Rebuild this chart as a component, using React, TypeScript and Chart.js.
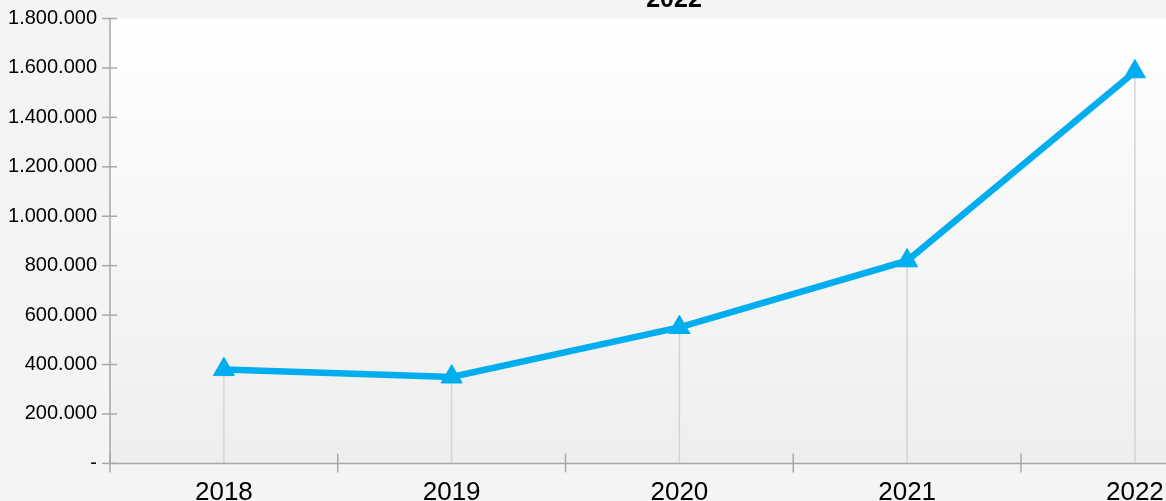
import React, { useEffect, useRef } from "react";
import { Chart, registerables } from "chart.js";

Chart.register(...registerables);

const categories: string[] = ["2018", "2019", "2020", "2021", "2022"];
const seriesValues: number[] = [380000, 350000, 550000, 820000, 1585000];
const yTickValues: number[] = [0, 200000, 400000, 600000, 800000, 1000000, 1200000, 1400000, 1600000, 1800000];
const chartTitle = "2022";

const CANVAS_W = 1348;
const CANVAS_H = 600;
const CANVAS_TOP = -40;
const FONT = "'Liberation Sans', Arial, sans-serif";
const LINE_COLOR = "#00AEEF";
const AXIS_COLOR = "#a8a8a8";

function formatThousands(v: number): string {
  if (v === 0) return "-";
  return String(Math.round(v)).replace(/\B(?=(\d{3})+(?!\d))/g, ".");
}

const decorPlugin = {
  id: "decor",
  beforeDraw(chart: any) {
    const { ctx, chartArea: ca, width, height } = chart;
    ctx.save();
    ctx.fillStyle = "#f4f4f4";
    ctx.fillRect(0, 0, width, height);
    const g = ctx.createLinearGradient(0, ca.top, 0, ca.bottom);
    g.addColorStop(0, "#ffffff");
    g.addColorStop(1, "#eeeeee");
    ctx.fillStyle = g;
    ctx.fillRect(ca.left, ca.top, ca.right - ca.left, ca.bottom - ca.top);
    // title, centred on the whole canvas
    ctx.fillStyle = "#000";
    ctx.font = "bold 25px " + FONT;
    ctx.textAlign = "center";
    ctx.textBaseline = "alphabetic";
    ctx.fillText(chartTitle, width / 2, ca.top - 11.2);
    ctx.restore();
  },
  beforeDatasetsDraw(chart: any) {
    const { ctx, chartArea: ca } = chart;
    const xs = chart.scales.x;
    const ys = chart.scales.y;
    ctx.save();
    // drop lines
    ctx.strokeStyle = "#d4d4d4";
    ctx.lineWidth = 1.5;
    const meta = chart.getDatasetMeta(0);
    meta.data.forEach((pt: any) => {
      ctx.beginPath();
      ctx.moveTo(pt.x, pt.y);
      ctx.lineTo(pt.x, ca.bottom);
      ctx.stroke();
    });
    // axis lines
    ctx.strokeStyle = AXIS_COLOR;
    ctx.lineWidth = 1.5;
    ctx.beginPath();
    ctx.moveTo(ca.left, ys.getPixelForValue(yTickValues[yTickValues.length - 1]));
    ctx.lineTo(ca.left, ca.bottom);
    ctx.lineTo(ca.right, ca.bottom);
    ctx.stroke();
    // y ticks crossing axis
    yTickValues.forEach((v) => {
      const py = ys.getPixelForValue(v);
      ctx.beginPath();
      ctx.moveTo(ca.left - 8, py);
      ctx.lineTo(ca.left + 7, py);
      ctx.stroke();
    });
    // x ticks at category boundaries
    for (let i = 0; i <= categories.length; i++) {
      const px = xs.getPixelForValue(i - 0.5);
      ctx.beginPath();
      ctx.moveTo(px, ca.bottom - 10);
      ctx.lineTo(px, ca.bottom + 9);
      ctx.stroke();
    }
    ctx.restore();
  },
};

export default function App() {
  const ref = useRef<HTMLCanvasElement | null>(null);

  useEffect(() => {
    if (!ref.current) return;
    const chart = new Chart(ref.current, {
      type: "line",
      data: {
        labels: categories,
        datasets: [
          {
            data: seriesValues,
            borderColor: LINE_COLOR,
            backgroundColor: LINE_COLOR,
            borderWidth: 6.5,
            tension: 0,
            pointStyle: "triangle",
            pointRadius: 12.2,
            pointBackgroundColor: LINE_COLOR,
            pointBorderColor: LINE_COLOR,
            pointBorderWidth: 1,
            fill: false,
          },
        ],
      },
      options: {
        responsive: false,
        animation: false,
        devicePixelRatio: 1,
        layout: { padding: { left: 0, right: 99.25, top: 58.5, bottom: 0 } },
        plugins: {
          legend: { display: false },
          tooltip: { enabled: false },
          title: { display: false },
        },
        scales: {
          x: {
            type: "category",
            offset: true,
            grid: { display: false, drawTicks: false },
            border: { display: false },
            ticks: {
              color: "#000",
              font: { family: FONT, size: 26 },
              padding: 14,
              maxRotation: 0,
              autoSkip: false,
            },
            afterFit: (s: any) => {
              s.height = 96.6;
            },
          },
          y: {
            min: 0,
            max: 1800000,
            grid: { display: false, drawTicks: false },
            border: { display: false },
            afterBuildTicks: (s: any) => {
              s.ticks = yTickValues.map((v) => ({ value: v }));
            },
            ticks: {
              color: "#000",
              font: { family: FONT, size: 20 },
              padding: 13,
              callback: (v: any) => formatThousands(Number(v)),
            },
            afterFit: (s: any) => {
              s.width = 110;
            },
          },
        },
      },
      plugins: [decorPlugin],
    });
    return () => chart.destroy();
  }, []);

  return (
    <div
      style={{
        position: "fixed",
        left: 0,
        top: 0,
        width: 1166,
        height: 501,
        overflow: "hidden",
        background: "#f4f4f4",
      }}
    >
      <canvas
        ref={ref}
        width={CANVAS_W}
        height={CANVAS_H}
        style={{ position: "absolute", left: 0, top: CANVAS_TOP, width: CANVAS_W, height: CANVAS_H }}
      />
    </div>
  );
}
